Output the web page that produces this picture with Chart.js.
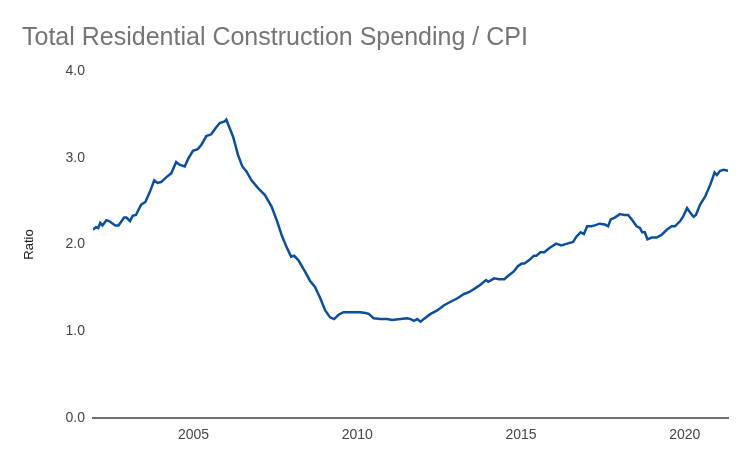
<!DOCTYPE html>
<html lang="en">
<head>
    <meta charset="UTF-8">
    <title>Total Residential Construction Spending / CPI</title>
    <script src="https://cdn.jsdelivr.net/npm/chart.js"></script>
    <style>
        html, body { margin: 0; padding: 0; background: #fff; }
        #wrap { width: 750px; height: 463px; position: relative; }
    </style>
</head>
<body>
    <div id="wrap"><canvas id="ratioChart"></canvas></div>

    <script>
        // decimal year of each reading
        const years = [
            2001.93, 2002.02, 2002.09, 2002.15, 2002.22, 2002.34, 2002.42, 2002.61, 2002.71, 2002.88,
            2002.95, 2003.06, 2003.14, 2003.24, 2003.40, 2003.53, 2003.67, 2003.80, 2003.90, 2004.01,
            2004.18, 2004.32, 2004.47, 2004.57, 2004.73, 2004.84, 2004.98, 2005.13, 2005.24, 2005.39,
            2005.54, 2005.67, 2005.80, 2005.95, 2006.00, 2006.21, 2006.36, 2006.49, 2006.62, 2006.77,
            2006.97, 2007.18, 2007.38, 2007.54, 2007.69, 2007.84, 2007.98, 2008.07, 2008.20, 2008.40,
            2008.56, 2008.71, 2008.87, 2009.02, 2009.17, 2009.29, 2009.43, 2009.58, 2009.79, 2010.09,
            2010.25, 2010.35, 2010.50, 2010.71, 2010.91, 2011.06, 2011.32, 2011.52, 2011.63, 2011.73,
            2011.83, 2011.93, 2012.03, 2012.24, 2012.44, 2012.65, 2012.85, 2013.06, 2013.26, 2013.41,
            2013.62, 2013.77, 2013.93, 2014.00, 2014.18, 2014.33, 2014.49, 2014.61, 2014.78, 2014.90,
            2015.02, 2015.10, 2015.25, 2015.39, 2015.47, 2015.59, 2015.71, 2015.87, 2016.07, 2016.23,
            2016.41, 2016.59, 2016.69, 2016.82, 2016.92, 2017.02, 2017.15, 2017.25, 2017.40, 2017.56,
            2017.66, 2017.74, 2017.86, 2018.02, 2018.15, 2018.27, 2018.40, 2018.53, 2018.63, 2018.70,
            2018.78, 2018.86, 2018.99, 2019.14, 2019.29, 2019.45, 2019.60, 2019.70, 2019.86, 2019.96,
            2020.07, 2020.18, 2020.27, 2020.34, 2020.47, 2020.62, 2020.78, 2020.91, 2020.98, 2021.08,
            2021.19, 2021.32
        ];
        const ratios = [
            2.17, 2.20, 2.19, 2.25, 2.22, 2.28, 2.27, 2.22, 2.22, 2.31,
            2.31, 2.27, 2.33, 2.34, 2.46, 2.49, 2.61, 2.74, 2.71, 2.72,
            2.78, 2.82, 2.95, 2.92, 2.90, 2.99, 3.08, 3.10, 3.15, 3.25,
            3.27, 3.34, 3.40, 3.42, 3.44, 3.24, 3.03, 2.90, 2.84, 2.74,
            2.65, 2.57, 2.44, 2.28, 2.11, 1.97, 1.86, 1.87, 1.82, 1.69,
            1.58, 1.51, 1.38, 1.24, 1.16, 1.14, 1.19, 1.22, 1.22, 1.22,
            1.21, 1.20, 1.15, 1.14, 1.14, 1.13, 1.14, 1.15, 1.14, 1.12,
            1.14, 1.11, 1.14, 1.20, 1.24, 1.30, 1.34, 1.38, 1.43, 1.45,
            1.50, 1.54, 1.59, 1.57, 1.61, 1.60, 1.60, 1.64, 1.69, 1.75,
            1.78, 1.78, 1.82, 1.87, 1.87, 1.91, 1.91, 1.96, 2.01, 1.99,
            2.01, 2.03, 2.09, 2.14, 2.12, 2.21, 2.21, 2.22, 2.24, 2.23,
            2.21, 2.29, 2.31, 2.35, 2.34, 2.34, 2.28, 2.21, 2.19, 2.14,
            2.14, 2.06, 2.08, 2.08, 2.11, 2.17, 2.21, 2.21, 2.27, 2.33,
            2.42, 2.36, 2.32, 2.34, 2.46, 2.55, 2.69, 2.83, 2.80, 2.85,
            2.86, 2.85
        ];
        const xTicks = [2005, 2010, 2015, 2020];
        const yTicks = [0, 1, 2, 3, 4];

        const points = years.map((yr, i) => ({ x: yr, y: ratios[i] }));
        const font = "'Liberation Sans', Arial, sans-serif";

        const ctx = document.getElementById('ratioChart').getContext('2d');
        new Chart(ctx, {
            type: 'line',
            data: {
                datasets: [{
                    label: 'Ratio',
                    data: points,
                    borderColor: '#0b4f9c',
                    borderWidth: 2.5,
                    pointRadius: 0,
                    tension: 0,
                    fill: false
                }]
            },
            options: {
                responsive: true,
                maintainAspectRatio: false,
                animation: false,
                layout: { padding: { left: 22, right: 22, top: 0, bottom: 0 } },
                plugins: {
                    legend: { display: false },
                    tooltip: { enabled: false },
                    title: {
                        display: true,
                        text: 'Total Residential Construction Spending / CPI',
                        align: 'start',
                        color: '#757575',
                        font: { family: font, size: 25, weight: 'normal' },
                        padding: { top: 23, bottom: 18 }
                    }
                },
                scales: {
                    x: {
                        type: 'linear',
                        min: years[0],
                        max: years[years.length - 1],
                        afterBuildTicks: s => { s.ticks = xTicks.map(v => ({ value: v })); },
                        afterFit: s => { s.height = 45; },
                        grid: { display: false, drawTicks: false },
                        border: { display: true, color: '#707070', width: 2 },
                        ticks: {
                            color: '#444',
                            padding: 9,
                            maxRotation: 0,
                            font: { family: font, size: 14 },
                            callback: v => String(v)
                        }
                    },
                    y: {
                        min: 0,
                        max: 4,
                        afterBuildTicks: s => { s.ticks = yTicks.map(v => ({ value: v })); },
                        afterFit: s => { s.width = 71; },
                        grid: { display: false, drawTicks: false },
                        border: { display: false },
                        title: {
                            display: true,
                            text: 'Ratio',
                            color: '#222',
                            font: { family: font, size: 13 },
                            padding: 0
                        },
                        ticks: {
                            color: '#444',
                            padding: 8,
                            font: { family: font, size: 14 },
                            callback: v => v.toFixed(1)
                        }
                    }
                }
            }
        });
    </script>
</body>
</html>
